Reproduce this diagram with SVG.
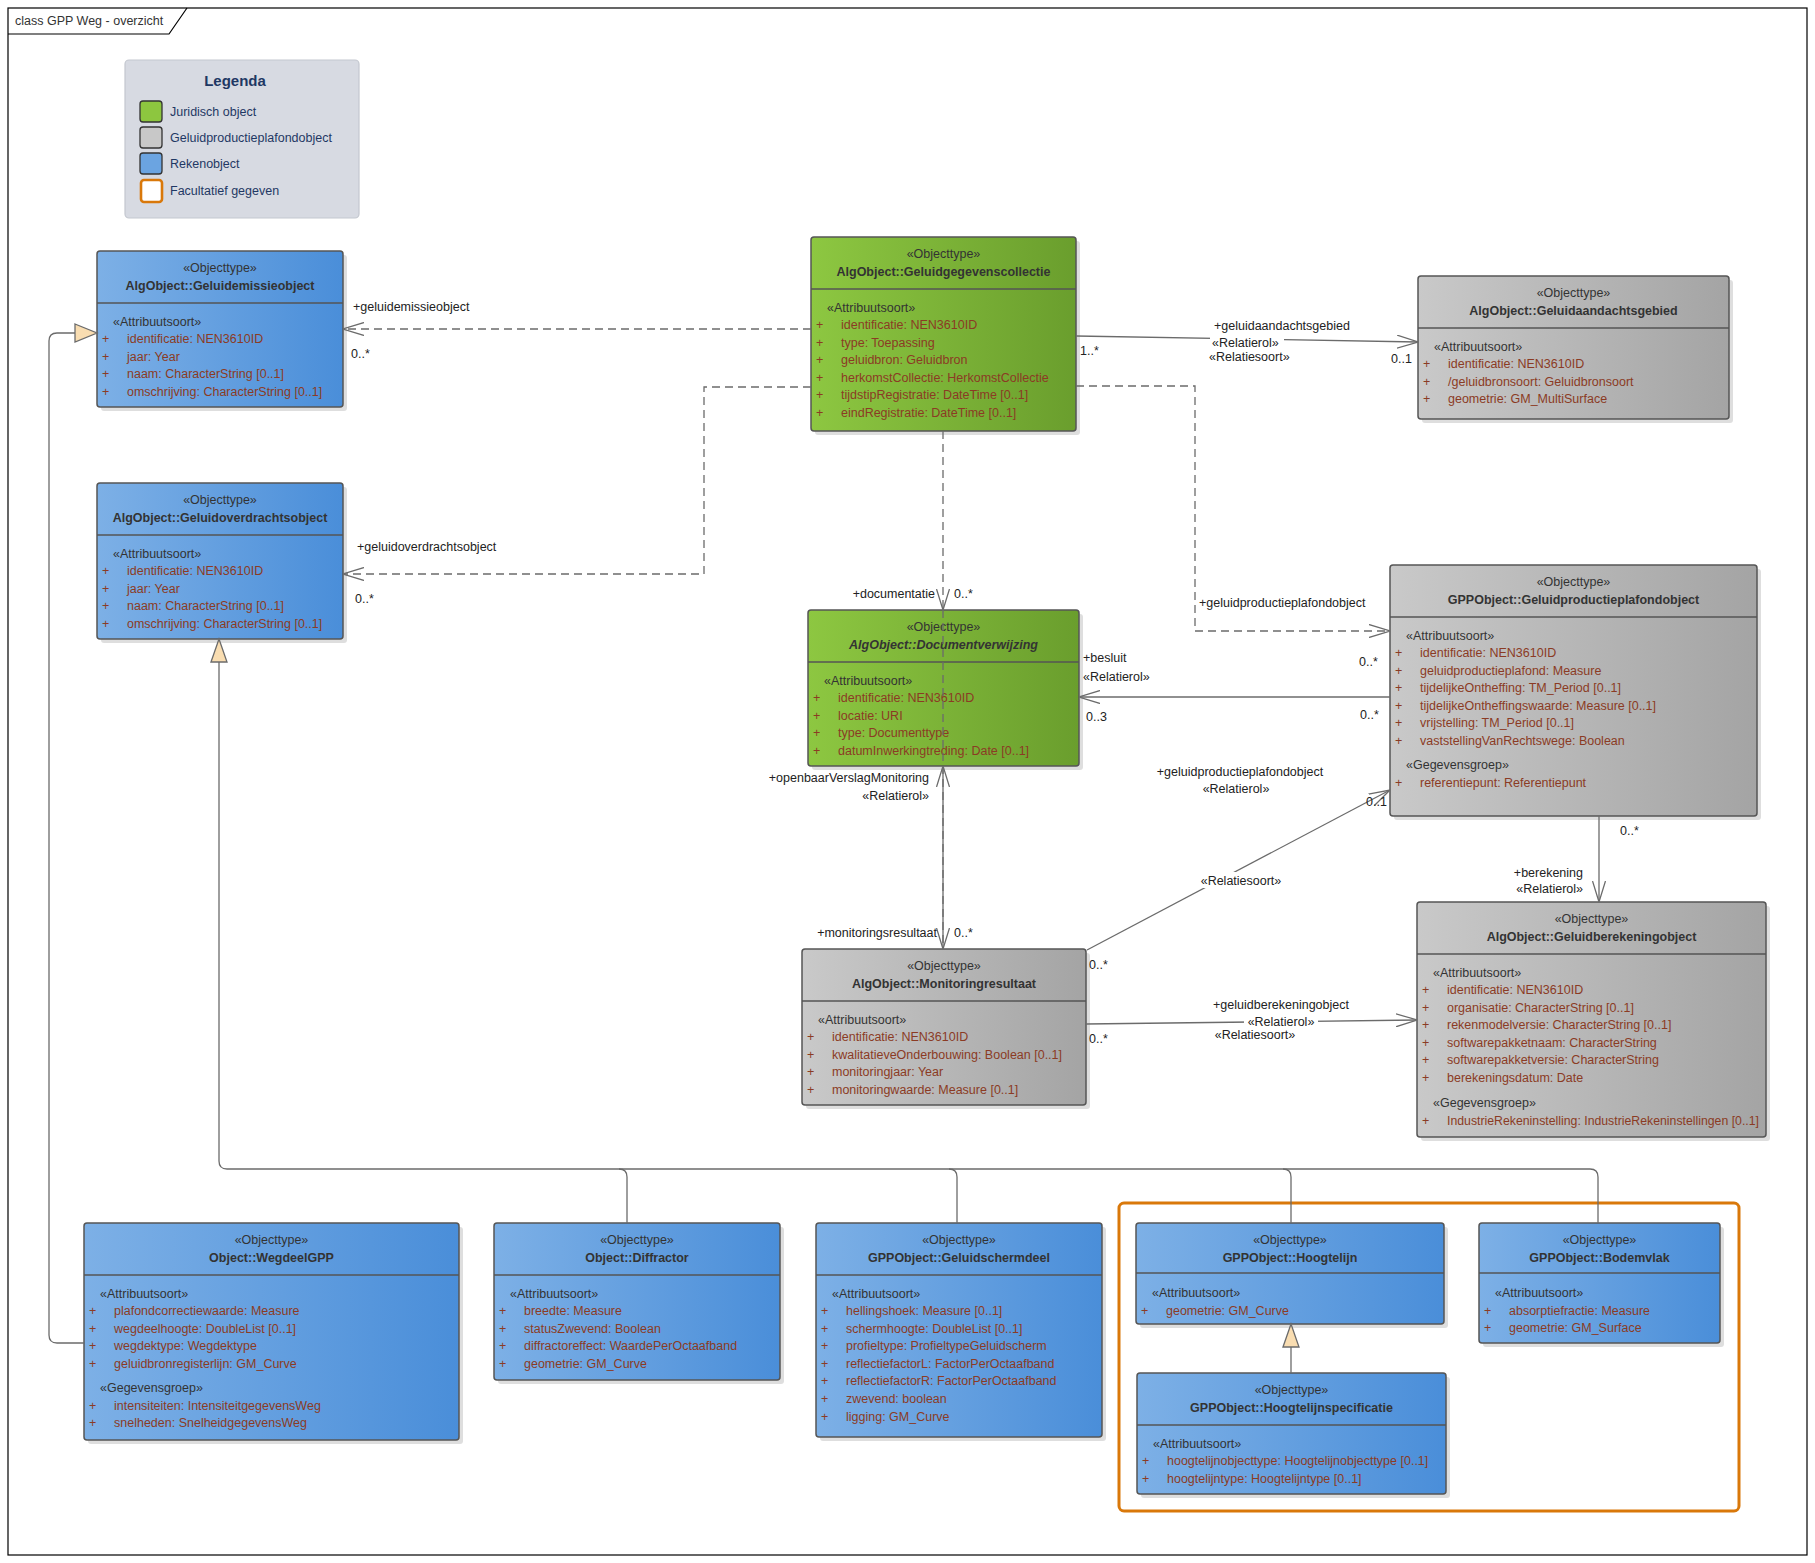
<svg xmlns="http://www.w3.org/2000/svg" width="1815" height="1563" viewBox="0 0 1815 1563">
<defs>
<linearGradient id="gBlue" x1="0" y1="0" x2="1" y2="0"><stop offset="0" stop-color="#7DB0E6"/><stop offset="1" stop-color="#4A8ED9"/></linearGradient>
<linearGradient id="gGreen" x1="0" y1="0" x2="1" y2="0"><stop offset="0" stop-color="#8DC741"/><stop offset="1" stop-color="#6A9E2D"/></linearGradient>
<linearGradient id="gGrey" x1="0" y1="0" x2="1" y2="0"><stop offset="0" stop-color="#C9C9C9"/><stop offset="1" stop-color="#A4A4A4"/></linearGradient>
<marker id="arr" viewBox="0 0 21 14" refX="21" refY="7" markerWidth="21" markerHeight="14" markerUnits="userSpaceOnUse" orient="auto"><path d="M0,0.5 L21,7 L0,13.5" fill="none" stroke="#6b6b6b" stroke-width="1.3" stroke-dasharray="none"/></marker>
</defs>
<style>
text{font-family:"Liberation Sans",Arial,sans-serif;font-size:12.5px;fill:#333}
.st,.nm{text-anchor:middle}
.nm{font-weight:bold}
.it{font-style:italic}
.at{fill:#8B3B24}
.box{stroke:#555;stroke-width:1.5}
.blue{fill:url(#gBlue)}
.green{fill:url(#gGreen)}
.grey{fill:url(#gGrey)}
.sh{fill:#000;opacity:0.13}
.dv{stroke:#555;stroke-width:1.3}
.ln{fill:none;stroke:#6b6b6b;stroke-width:1.3}
.ds{stroke-dasharray:8,5}
.lb{fill:#222}
.lg{fill:#1F3864}
.tri{fill:#F9DDB1;stroke:#6b6b6b;stroke-width:1.3}
.r{text-anchor:end}
.m{text-anchor:middle}
</style>
<rect x="0" y="0" width="1815" height="1563" fill="#fff"/>
<g id="frame">
<rect x="8" y="8" width="1799" height="1547" fill="none" stroke="#000" stroke-width="1.2"/>
<path d="M8,34 L169,34 L187,8" fill="none" stroke="#000" stroke-width="1.2"/>
<text x="15" y="25" fill="#000">class GPP Weg - overzicht</text>
</g>
<g id="legenda">
<rect x="125" y="60" width="234" height="158" rx="4" fill="#D7DAE2" stroke="#C3C7CF" stroke-width="1.2"/>
<text x="235" y="86" class="lg" text-anchor="middle" style="font-size:15px;font-weight:bold">Legenda</text>
<rect x="140" y="101" width="22" height="21" rx="3" fill="#8DC63F" stroke="#333" stroke-width="1.3"/>
<rect x="140" y="127" width="22" height="21" rx="3" fill="#C8C8C8" stroke="#333" stroke-width="1.3"/>
<rect x="140" y="153" width="22" height="21" rx="3" fill="#6BA4E1" stroke="#333" stroke-width="1.3"/>
<rect x="141" y="180" width="21" height="22" rx="3" fill="#fff" stroke="#D9780A" stroke-width="2.6"/>
<text x="170" y="116" class="lg">Juridisch object</text>
<text x="170" y="142" class="lg">Geluidproductieplafondobject</text>
<text x="170" y="168" class="lg">Rekenobject</text>
<text x="170" y="195" class="lg">Facultatief gegeven</text>
</g>
<rect id="facultatief" x="1119" y="1203" width="620" height="308" rx="5" fill="none" stroke="#D9780A" stroke-width="3"/>

<g id="n-emissie">
<rect class="sh" x="101" y="255" width="246" height="156" rx="3"/>
<rect class="box blue" x="97" y="251" width="246" height="156" rx="3"/>
<line class="dv" x1="97" y1="303" x2="343" y2="303"/>
<text class="st" x="220" y="271.5">«Objecttype»</text>
<text class="nm" x="220" y="289.5">AlgObject::Geluidemissieobject</text>
<text x="113" y="325.5">«Attribuutsoort»</text>
<text class="at" x="102" y="343">+</text><text class="at" x="127" y="343">identificatie: NEN3610ID</text>
<text class="at" x="102" y="360.6">+</text><text class="at" x="127" y="360.6">jaar: Year</text>
<text class="at" x="102" y="378.2">+</text><text class="at" x="127" y="378.2">naam: CharacterString [0..1]</text>
<text class="at" x="102" y="395.8">+</text><text class="at" x="127" y="395.8">omschrijving: CharacterString [0..1]</text>
</g>

<g id="n-overdracht">
<rect class="sh" x="101" y="487" width="246" height="156" rx="3"/>
<rect class="box blue" x="97" y="483" width="246" height="156" rx="3"/>
<line class="dv" x1="97" y1="535" x2="343" y2="535"/>
<text class="st" x="220" y="503.5">«Objecttype»</text>
<text class="nm" x="220" y="521.5">AlgObject::Geluidoverdrachtsobject</text>
<text x="113" y="557.5">«Attribuutsoort»</text>
<text class="at" x="102" y="575">+</text><text class="at" x="127" y="575">identificatie: NEN3610ID</text>
<text class="at" x="102" y="592.6">+</text><text class="at" x="127" y="592.6">jaar: Year</text>
<text class="at" x="102" y="610.2">+</text><text class="at" x="127" y="610.2">naam: CharacterString [0..1]</text>
<text class="at" x="102" y="627.8">+</text><text class="at" x="127" y="627.8">omschrijving: CharacterString [0..1]</text>
</g>

<g id="n-collectie">
<rect class="sh" x="815" y="241" width="265" height="194" rx="3"/>
<rect class="box green" x="811" y="237" width="265" height="194" rx="3"/>
<line class="dv" x1="811" y1="289" x2="1076" y2="289"/>
<text class="st" x="943.5" y="257.5">«Objecttype»</text>
<text class="nm" x="943.5" y="275.5">AlgObject::Geluidgegevenscollectie</text>
<text x="827" y="311.5">«Attribuutsoort»</text>
<text class="at" x="816" y="329">+</text><text class="at" x="841" y="329">identificatie: NEN3610ID</text>
<text class="at" x="816" y="346.6">+</text><text class="at" x="841" y="346.6">type: Toepassing</text>
<text class="at" x="816" y="364.2">+</text><text class="at" x="841" y="364.2">geluidbron: Geluidbron</text>
<text class="at" x="816" y="381.8">+</text><text class="at" x="841" y="381.8">herkomstCollectie: HerkomstCollectie</text>
<text class="at" x="816" y="399.4">+</text><text class="at" x="841" y="399.4">tijdstipRegistratie: DateTime [0..1]</text>
<text class="at" x="816" y="417">+</text><text class="at" x="841" y="417">eindRegistratie: DateTime [0..1]</text>
</g>

<g id="n-aandachtsgebied">
<rect class="sh" x="1422" y="280" width="311" height="143" rx="3"/>
<rect class="box grey" x="1418" y="276" width="311" height="143" rx="3"/>
<line class="dv" x1="1418" y1="328" x2="1729" y2="328"/>
<text class="st" x="1573.5" y="296.5">«Objecttype»</text>
<text class="nm" x="1573.5" y="314.5">AlgObject::Geluidaandachtsgebied</text>
<text x="1434" y="350.5">«Attribuutsoort»</text>
<text class="at" x="1423" y="368">+</text><text class="at" x="1448" y="368">identificatie: NEN3610ID</text>
<text class="at" x="1423" y="385.6">+</text><text class="at" x="1448" y="385.6">/geluidbronsoort: Geluidbronsoort</text>
<text class="at" x="1423" y="403.2">+</text><text class="at" x="1448" y="403.2">geometrie: GM_MultiSurface</text>
</g>

<g id="n-documentverwijzing">
<rect class="sh" x="812" y="614" width="271" height="156" rx="3"/>
<rect class="box green" x="808" y="610" width="271" height="156" rx="3"/>
<line class="dv" x1="808" y1="662" x2="1079" y2="662"/>
<text class="st" x="943.5" y="630.5">«Objecttype»</text>
<text class="nm it" x="943.5" y="648.5">AlgObject::Documentverwijzing</text>
<text x="824" y="684.5">«Attribuutsoort»</text>
<text class="at" x="813" y="702">+</text><text class="at" x="838" y="702">identificatie: NEN3610ID</text>
<text class="at" x="813" y="719.6">+</text><text class="at" x="838" y="719.6">locatie: URI</text>
<text class="at" x="813" y="737.2">+</text><text class="at" x="838" y="737.2">type: Documenttype</text>
<text class="at" x="813" y="754.8">+</text><text class="at" x="838" y="754.8">datumInwerkingtreding: Date [0..1]</text>
</g>

<g id="n-monitoring">
<rect class="sh" x="806" y="953" width="284" height="156" rx="3"/>
<rect class="box grey" x="802" y="949" width="284" height="156" rx="3"/>
<line class="dv" x1="802" y1="1001" x2="1086" y2="1001"/>
<text class="st" x="944" y="969.5">«Objecttype»</text>
<text class="nm" x="944" y="987.5">AlgObject::Monitoringresultaat</text>
<text x="818" y="1023.5">«Attribuutsoort»</text>
<text class="at" x="807" y="1041">+</text><text class="at" x="832" y="1041">identificatie: NEN3610ID</text>
<text class="at" x="807" y="1058.6">+</text><text class="at" x="832" y="1058.6">kwalitatieveOnderbouwing: Boolean [0..1]</text>
<text class="at" x="807" y="1076.2">+</text><text class="at" x="832" y="1076.2">monitoringjaar: Year</text>
<text class="at" x="807" y="1093.8">+</text><text class="at" x="832" y="1093.8">monitoringwaarde: Measure [0..1]</text>
</g>

<g id="n-gpp">
<rect class="sh" x="1394" y="569" width="367" height="251" rx="3"/>
<rect class="box grey" x="1390" y="565" width="367" height="251" rx="3"/>
<line class="dv" x1="1390" y1="617" x2="1757" y2="617"/>
<text class="st" x="1573.5" y="585.5">«Objecttype»</text>
<text class="nm" x="1573.5" y="603.5">GPPObject::Geluidproductieplafondobject</text>
<text x="1406" y="639.5">«Attribuutsoort»</text>
<text class="at" x="1395" y="657">+</text><text class="at" x="1420" y="657">identificatie: NEN3610ID</text>
<text class="at" x="1395" y="674.6">+</text><text class="at" x="1420" y="674.6">geluidproductieplafond: Measure</text>
<text class="at" x="1395" y="692.2">+</text><text class="at" x="1420" y="692.2">tijdelijkeOntheffing: TM_Period [0..1]</text>
<text class="at" x="1395" y="709.8">+</text><text class="at" x="1420" y="709.8">tijdelijkeOntheffingswaarde: Measure [0..1]</text>
<text class="at" x="1395" y="727.4">+</text><text class="at" x="1420" y="727.4">vrijstelling: TM_Period [0..1]</text>
<text class="at" x="1395" y="745">+</text><text class="at" x="1420" y="745">vaststellingVanRechtswege: Boolean</text>
<text x="1406" y="768.5">«Gegevensgroep»</text>
<text class="at" x="1395" y="786.5">+</text><text class="at" x="1420" y="786.5">referentiepunt: Referentiepunt</text>
</g>

<g id="n-berekening">
<rect class="sh" x="1421" y="906" width="349" height="235" rx="3"/>
<rect class="box grey" x="1417" y="902" width="349" height="235" rx="3"/>
<line class="dv" x1="1417" y1="954" x2="1766" y2="954"/>
<text class="st" x="1591.5" y="922.5">«Objecttype»</text>
<text class="nm" x="1591.5" y="940.5">AlgObject::Geluidberekeningobject</text>
<text x="1433" y="976.5">«Attribuutsoort»</text>
<text class="at" x="1422" y="994">+</text><text class="at" x="1447" y="994">identificatie: NEN3610ID</text>
<text class="at" x="1422" y="1011.6">+</text><text class="at" x="1447" y="1011.6">organisatie: CharacterString [0..1]</text>
<text class="at" x="1422" y="1029.2">+</text><text class="at" x="1447" y="1029.2">rekenmodelversie: CharacterString [0..1]</text>
<text class="at" x="1422" y="1046.8">+</text><text class="at" x="1447" y="1046.8">softwarepakketnaam: CharacterString</text>
<text class="at" x="1422" y="1064.4">+</text><text class="at" x="1447" y="1064.4">softwarepakketversie: CharacterString</text>
<text class="at" x="1422" y="1082">+</text><text class="at" x="1447" y="1082">berekeningsdatum: Date</text>
<text x="1433" y="1106.5">«Gegevensgroep»</text>
<text class="at" x="1422" y="1124.5">+</text><text class="at" x="1447" y="1124.5" textLength="312" lengthAdjust="spacingAndGlyphs">IndustrieRekeninstelling: IndustrieRekeninstellingen [0..1]</text>
</g>

<g id="n-wegdeel">
<rect class="sh" x="88" y="1227" width="375" height="217" rx="3"/>
<rect class="box blue" x="84" y="1223" width="375" height="217" rx="3"/>
<line class="dv" x1="84" y1="1275" x2="459" y2="1275"/>
<text class="st" x="271.5" y="1243.5">«Objecttype»</text>
<text class="nm" x="271.5" y="1261.5">Object::WegdeelGPP</text>
<text x="100" y="1297.5">«Attribuutsoort»</text>
<text class="at" x="89" y="1315">+</text><text class="at" x="114" y="1315">plafondcorrectiewaarde: Measure</text>
<text class="at" x="89" y="1332.6">+</text><text class="at" x="114" y="1332.6">wegdeelhoogte: DoubleList [0..1]</text>
<text class="at" x="89" y="1350.2">+</text><text class="at" x="114" y="1350.2">wegdektype: Wegdektype</text>
<text class="at" x="89" y="1367.8">+</text><text class="at" x="114" y="1367.8">geluidbronregisterlijn: GM_Curve</text>
<text x="100" y="1391.5">«Gegevensgroep»</text>
<text class="at" x="89" y="1409.5">+</text><text class="at" x="114" y="1409.5">intensiteiten: IntensiteitgegevensWeg</text>
<text class="at" x="89" y="1427">+</text><text class="at" x="114" y="1427">snelheden: SnelheidgegevensWeg</text>
</g>

<g id="n-diffractor">
<rect class="sh" x="498" y="1227" width="286" height="157" rx="3"/>
<rect class="box blue" x="494" y="1223" width="286" height="157" rx="3"/>
<line class="dv" x1="494" y1="1275" x2="780" y2="1275"/>
<text class="st" x="637" y="1243.5">«Objecttype»</text>
<text class="nm" x="637" y="1261.5">Object::Diffractor</text>
<text x="510" y="1297.5">«Attribuutsoort»</text>
<text class="at" x="499" y="1315">+</text><text class="at" x="524" y="1315">breedte: Measure</text>
<text class="at" x="499" y="1332.6">+</text><text class="at" x="524" y="1332.6">statusZwevend: Boolean</text>
<text class="at" x="499" y="1350.2">+</text><text class="at" x="524" y="1350.2">diffractoreffect: WaardePerOctaafband</text>
<text class="at" x="499" y="1367.8">+</text><text class="at" x="524" y="1367.8">geometrie: GM_Curve</text>
</g>

<g id="n-geluidscherm">
<rect class="sh" x="820" y="1227" width="286" height="214" rx="3"/>
<rect class="box blue" x="816" y="1223" width="286" height="214" rx="3"/>
<line class="dv" x1="816" y1="1275" x2="1102" y2="1275"/>
<text class="st" x="959" y="1243.5">«Objecttype»</text>
<text class="nm" x="959" y="1261.5">GPPObject::Geluidschermdeel</text>
<text x="832" y="1297.5">«Attribuutsoort»</text>
<text class="at" x="821" y="1315">+</text><text class="at" x="846" y="1315">hellingshoek: Measure [0..1]</text>
<text class="at" x="821" y="1332.6">+</text><text class="at" x="846" y="1332.6">schermhoogte: DoubleList [0..1]</text>
<text class="at" x="821" y="1350.2">+</text><text class="at" x="846" y="1350.2">profieltype: ProfieltypeGeluidscherm</text>
<text class="at" x="821" y="1367.8">+</text><text class="at" x="846" y="1367.8">reflectiefactorL: FactorPerOctaafband</text>
<text class="at" x="821" y="1385.4">+</text><text class="at" x="846" y="1385.4">reflectiefactorR: FactorPerOctaafband</text>
<text class="at" x="821" y="1403">+</text><text class="at" x="846" y="1403">zwevend: boolean</text>
<text class="at" x="821" y="1420.6">+</text><text class="at" x="846" y="1420.6">ligging: GM_Curve</text>
</g>

<g id="n-hoogtelijn">
<rect class="sh" x="1140" y="1227" width="308" height="101" rx="3"/>
<rect class="box blue" x="1136" y="1223" width="308" height="101" rx="3"/>
<line class="dv" x1="1136" y1="1273" x2="1444" y2="1273"/>
<text class="st" x="1290" y="1243.5">«Objecttype»</text>
<text class="nm" x="1290" y="1261.5">GPPObject::Hoogtelijn</text>
<text x="1152" y="1296.5">«Attribuutsoort»</text>
<text class="at" x="1141" y="1314.5">+</text><text class="at" x="1166" y="1314.5">geometrie: GM_Curve</text>
</g>

<g id="n-hoogtelijnspec">
<rect class="sh" x="1141" y="1377" width="309" height="121" rx="3"/>
<rect class="box blue" x="1137" y="1373" width="309" height="121" rx="3"/>
<line class="dv" x1="1137" y1="1425" x2="1446" y2="1425"/>
<text class="st" x="1291.5" y="1393.5">«Objecttype»</text>
<text class="nm" x="1291.5" y="1411.5">GPPObject::Hoogtelijnspecificatie</text>
<text x="1153" y="1447.5">«Attribuutsoort»</text>
<text class="at" x="1142" y="1465">+</text><text class="at" x="1167" y="1465">hoogtelijnobjecttype: Hoogtelijnobjecttype [0..1]</text>
<text class="at" x="1142" y="1482.6">+</text><text class="at" x="1167" y="1482.6">hoogtelijntype: Hoogtelijntype [0..1]</text>
</g>

<g id="n-bodemvlak">
<rect class="sh" x="1483" y="1227" width="241" height="120" rx="3"/>
<rect class="box blue" x="1479" y="1223" width="241" height="120" rx="3"/>
<line class="dv" x1="1479" y1="1273" x2="1720" y2="1273"/>
<text class="st" x="1599.5" y="1243.5">«Objecttype»</text>
<text class="nm" x="1599.5" y="1261.5">GPPObject::Bodemvlak</text>
<text x="1495" y="1296.5">«Attribuutsoort»</text>
<text class="at" x="1484" y="1314.5">+</text><text class="at" x="1509" y="1314.5">absorptiefractie: Measure</text>
<text class="at" x="1484" y="1332">+</text><text class="at" x="1509" y="1332">geometrie: GM_Surface</text>
</g>

<g id="connectors">
<path class="ln ds" d="M811,329 L343,329" marker-end="url(#arr)"/>
<path class="ln ds" d="M811,387 L704,387 L704,574 L343,574" marker-end="url(#arr)"/>
<path class="ln" d="M1076,336 L1418,342" marker-end="url(#arr)"/>
<path class="ln ds" d="M1076,386 L1195,386 L1195,631 L1390,631" marker-end="url(#arr)"/>
<path class="ln" d="M1390,697 L1079,697" marker-end="url(#arr)"/>
<path class="ln ds" d="M943,431 L943,610" marker-end="url(#arr)"/>
<path class="ln" d="M943,949 L943,766" marker-end="url(#arr)"/>
<path class="ln ds" d="M943,610 L943,949" marker-end="url(#arr)"/>
<path class="ln" d="M1087,950 L1390,790" marker-end="url(#arr)"/>
<path class="ln" d="M1086,1024 L1417,1020" marker-end="url(#arr)"/>
<path class="ln" d="M1599,816 L1599,902" marker-end="url(#arr)"/>
<path class="ln" d="M84,1343 L57,1343 Q49,1343 49,1335 L49,341 Q49,333 57,333 L75,333"/>
<polygon class="tri" points="75,324 97,333 75,342"/>
<path class="ln" d="M219,662 L219,1161 Q219,1169 227,1169 L1590,1169 Q1598,1169 1598,1177 L1598,1223"/>
<path class="ln" d="M619,1169 Q627,1169 627,1177 L627,1223"/>
<path class="ln" d="M949,1169 Q957,1169 957,1177 L957,1223"/>
<path class="ln" d="M1283,1169 Q1291,1169 1291,1177 L1291,1223"/>
<polygon class="tri" points="211,662 219,639 227,662"/>
<path class="ln" d="M1291,1373 L1291,1347"/>
<polygon class="tri" points="1283,1347 1291,1324 1299,1347"/>

<text class="lb" x="353" y="310.5">+geluidemissieobject</text>
<text class="lb" x="351" y="357.5">0..*</text>
<text class="lb" x="357" y="550.5">+geluidoverdrachtsobject</text>
<text class="lb" x="355" y="602.5">0..*</text>
<text class="lb" x="1214" y="329.5">+geluidaandachtsgebied</text>
<text class="lb" x="1209" y="361">«Relatiesoort»</text>
<rect x="1210" y="335" width="74" height="14" fill="#fff"/>
<text class="lb" x="1212" y="346.5">«Relatierol»</text>
<text class="lb" x="1080" y="354.5">1..*</text>
<text class="lb" x="1391" y="362.5">0..1</text>
<text class="lb" x="1199" y="606.5">+geluidproductieplafondobject</text>
<text class="lb" x="1359" y="665.5">0..*</text>
<text class="lb" x="1083" y="661.5">+besluit</text>
<text class="lb" x="1083" y="680.5">«Relatierol»</text>
<text class="lb" x="1086" y="720.5">0..3</text>
<text class="lb" x="1360" y="718.5">0..*</text>
<text class="lb r" x="935" y="598">+documentatie</text>
<text class="lb" x="954" y="598">0..*</text>
<text class="lb r" x="929" y="781.5">+openbaarVerslagMonitoring</text>
<text class="lb r" x="929" y="799.5">«Relatierol»</text>
<text class="lb r" x="937" y="936.5">+monitoringsresultaat</text>
<text class="lb" x="954" y="936.5">0..*</text>
<text class="lb m" x="1240" y="775.5">+geluidproductieplafondobject</text>
<text class="lb m" x="1236" y="792.5">«Relatierol»</text>
<rect x="1196" y="872" width="90" height="16" fill="#fff"/>
<text class="lb m" x="1241" y="884.5">«Relatiesoort»</text>
<text class="lb" x="1366" y="805.5">0..1</text>
<text class="lb" x="1089" y="968.5">0..*</text>
<text class="lb m" x="1281" y="1008.5">+geluidberekeningobject</text>
<rect x="1244" y="1015" width="74" height="13" fill="#fff"/>
<text class="lb m" x="1281" y="1025.5">«Relatierol»</text>
<text class="lb m" x="1255" y="1038.5">«Relatiesoort»</text>
<text class="lb" x="1089" y="1042.5">0..*</text>
<text class="lb" x="1620" y="834.5">0..*</text>
<text class="lb r" x="1583" y="876.5">+berekening</text>
<text class="lb r" x="1583" y="892.5">«Relatierol»</text>
</g>
</svg>
